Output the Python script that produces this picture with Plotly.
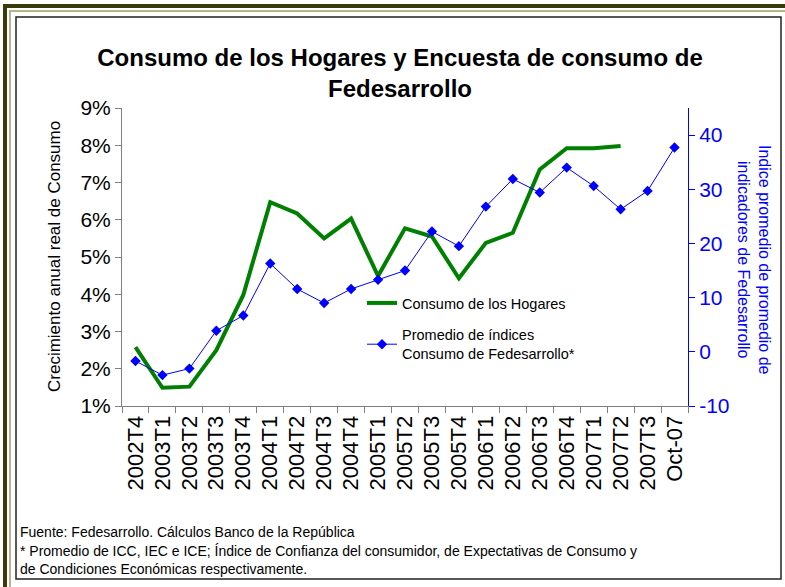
"""
Consumo de los Hogares vs encuesta de consumo de Fedesarrollo
"""

import plotly.graph_objects as go

W, H = 785, 587
# plot area in pixels
L, R, T, B = 122, 97, 108, 181

periodos = ['2002T4', '2003T1', '2003T2', '2003T3', '2003T4', '2004T1', '2004T2',
            '2004T3', '2004T4', '2005T1', '2005T2', '2005T3', '2005T4', '2006T1',
            '2006T2', '2006T3', '2006T4', '2007T1', '2007T2', '2007T3', 'Oct-07']

# crecimiento anual real del consumo de los hogares (%)
consumo_hogares = [2.58, 1.49, 1.52, 2.50, 3.98, 6.47, 6.17, 5.50, 6.03, 4.49,
                   5.77, 5.55, 4.43, 5.38, 5.65, 7.35, 7.92, 7.92, 7.98, None, None]

# promedio de indices de consumo de Fedesarrollo
indice_fedesarrollo = [-1.7, -4.3, -3.1, 3.9, 6.7, 16.3, 11.6, 9.0, 11.6, 13.3,
                       15.0, 22.2, 19.5, 26.8, 31.9, 29.4, 34.0, 30.6, 26.3, 29.7, 37.7]

left_ticks = [1, 2, 3, 4, 5, 6, 7, 8, 9]
left_labels = ['1%', '2%', '3%', '4%', '5%', '6%', '7%', '8%', '9%']
right_ticks = [-10, 0, 10, 20, 30, 40]
right_labels = ['-10', '0', '10', '20', '30', '40']

FONT = 'Liberation Sans, Arial, sans-serif'
NARROW = 'Liberation Sans Narrow, Arial Narrow, Liberation Sans, Arial, sans-serif'
BLUE = '#0000FF'
GREEN = '#008000'


def px(x, y):
    # figure pixels -> paper coords of the plot area
    return (x - L) / (W - L - R), (H - B - y) / (H - T - B)


fig = go.Figure()

fig.add_trace(go.Scatter(
    x=periodos, y=consumo_hogares, name='Consumo de los Hogares',
    mode='lines', line=dict(color=GREEN, width=4),
    legendgroup='a', connectgaps=False,
))
fig.add_trace(go.Scatter(
    x=periodos, y=indice_fedesarrollo, yaxis='y2',
    name='Promedio de índices<br>Consumo de Fedesarrollo*',
    mode='lines+markers', line=dict(color=BLUE, width=1),
    marker=dict(symbol='diamond', size=8, color=BLUE),
    legendgroup='b',
))

# frame: olive double border + thin black inner box
shapes = []
x0, y0 = px(5, 6)
x1, y1 = px(W + 10, H + 10)
shapes.append(dict(type='rect', xref='paper', yref='paper', x0=x0, y0=y0, x1=x1, y1=y1,
                   line=dict(color='#3a3a08', width=4), layer='below'))
x0, y0 = px(10, 11)
shapes.append(dict(type='rect', xref='paper', yref='paper', x0=x0, y0=y0, x1=x1, y1=y1,
                   line=dict(color='#b5b58c', width=2), layer='below'))
x0, y0 = px(16, 17)
x1, y1 = px(781, 579)
shapes.append(dict(type='rect', xref='paper', yref='paper', x0=x0, y0=y0, x1=x1, y1=y1,
                   line=dict(color='#222222', width=1.5), layer='below'))

annotations = []
ax, ay = px(54, 257)
annotations.append(dict(
    text='Crecimiento anual real de Consumo',
    xref='paper', yref='paper', x=ax, y=ay, xanchor='center', yanchor='middle',
    showarrow=False, textangle=-90,
    font=dict(family=FONT, size=17, color='#000000'),
))
ax, ay = px(754, 260)
annotations.append(dict(
    text='Indice promedio de promedio de<br>indicadores de Fedesarrollo',
    xref='paper', yref='paper', x=ax, y=ay, xanchor='center', yanchor='middle',
    showarrow=False, textangle=90,
    font=dict(family=FONT, size=16, color=BLUE),
))
fx, fy = px(18, 532)
annotations.append(dict(
    text='Fuente: Fedesarrollo. Cálculos Banco de la República',
    xref='paper', yref='paper', x=fx, y=fy, xanchor='left', yanchor='middle',
    showarrow=False, font=dict(family=NARROW, size=14, color='#000000'),
))
fx, fy = px(18, 560)
annotations.append(dict(
    text='* Promedio de ICC, IEC e ICE; Índice de Confianza del consumidor, de Expectativas de Consumo y'
         '<br>de Condiciones Económicas respectivamente.',
    xref='paper', yref='paper', x=fx, y=fy, xanchor='left', yanchor='middle', align='left',
    showarrow=False, font=dict(family=NARROW, size=14, color='#000000'),
))

lx, ly = px(362, 287)

fig.update_layout(
    width=W, height=H,
    margin=dict(l=L, r=R, t=T, b=B),
    paper_bgcolor='white', plot_bgcolor='white',
    font=dict(family=FONT, color='#000000'),
    title=dict(
        text='<b>Consumo de los Hogares y Encuesta de consumo de<br>Fedesarrollo</b>',
        x=400 / W, xref='container', xanchor='center',
        y=1 - 66 / H, yref='container', yanchor='middle',
        font=dict(family=FONT, size=24, color='#000000'),
    ),
    xaxis=dict(
        type='category', tickangle=-90, tickson='boundaries',
        ticks='outside', ticklen=6, tickcolor='#808080',
        showline=True, linecolor='#808080', linewidth=1,
        showgrid=False, tickfont=dict(size=22, family=FONT),
        range=[-0.5, len(periodos) - 0.5],
    ),
    yaxis=dict(
        range=[1, 9], tickvals=left_ticks, ticktext=left_labels,
        ticks='outside', ticklen=6, tickcolor='#808080',
        showline=True, linecolor='#808080', linewidth=1,
        showgrid=False, zeroline=False, tickfont=dict(size=21, family=FONT),
    ),
    yaxis2=dict(
        overlaying='y', side='right', range=[-10, 45],
        tickvals=right_ticks, ticktext=right_labels,
        ticks='outside', ticklen=6, tickcolor=BLUE,
        showline=True, linecolor=BLUE, linewidth=1,
        showgrid=False, zeroline=False,
        tickfont=dict(size=21, family=FONT, color=BLUE),
    ),
    legend=dict(
        x=lx, y=ly, xanchor='left', yanchor='top',
        bgcolor='rgba(0,0,0,0)', font=dict(size=14.5, family=FONT),
        tracegroupgap=10, itemwidth=30,
    ),
    shapes=shapes,
    annotations=annotations,
)

fig.write_html("out.html", config={'displayModeBar': False},
               post_script="document.body.style.margin='0';")
